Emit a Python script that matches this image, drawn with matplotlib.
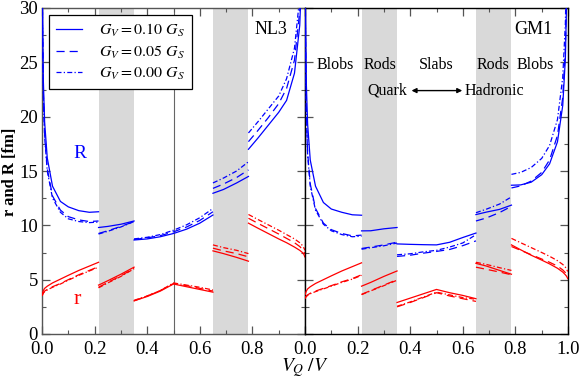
import matplotlib
matplotlib.use('Agg')
import matplotlib.pyplot as plt
from matplotlib.ticker import MultipleLocator

plt.rcParams['font.family'] = ['Liberation Serif', 'DejaVu Serif']
plt.rcParams['mathtext.fontset'] = 'stix'

# ---------------- data ----------------
models = ['NL3', 'GM1']
legend_labels = ['$G_V = 0.10\\ G_S$', '$G_V = 0.05\\ G_S$', '$G_V = 0.00\\ G_S$']
phase_names = ['Blobs', 'Rods', 'Slabs', 'Rods', 'Blobs']
phase_x = [0.114, 0.285, 0.5, 0.715, 0.875]
rod_bands = [(0.215, 0.35), (0.65, 0.785)]

# x grids of the five pasta segments
x_blobQ = [0.001, 0.002, 0.005, 0.01, 0.02, 0.04, 0.07, 0.1, 0.14, 0.18, 0.215]
x_rodQ = [0.215, 0.25, 0.3, 0.35]
x_slab = [0.35, 0.4, 0.45, 0.5, 0.55, 0.6, 0.65]
x_rodH = [0.65, 0.69, 0.74, 0.785]
x_blobH = [0.785, 0.82, 0.86, 0.9, 0.93, 0.96, 0.98, 0.99, 0.995, 0.998, 0.999]

# each list: [G_V=0.10 (solid), G_V=0.05 (dashed), G_V=0.00 (dash-dot)]
# ---- NL3 ----
nl3_blobQ_R = [[37, 30.2, 23.4, 19.5, 16.2, 13.6, 12.2, 11.7, 11.35, 11.2, 11.25],
               [35.5, 29.0, 22.3, 18.4, 15.2, 12.7, 11.4, 10.8, 10.5, 10.35, 10.4],
               [35.0, 28.6, 22.0, 18.1, 15.0, 12.5, 11.2, 10.6, 10.35, 10.25, 10.3]]
nl3_blobQ_r = [[3.7, 3.8, 4.0, 4.2, 4.4, 4.7, 5.05, 5.4, 5.85, 6.25, 6.6],
               [3.55, 3.65, 3.8, 3.95, 4.1, 4.35, 4.65, 5.0, 5.45, 5.85, 6.2],
               [3.5, 3.6, 3.75, 3.9, 4.05, 4.3, 4.6, 4.95, 5.4, 5.8, 6.15]]
nl3_rodQ_R = [[9.8, 9.9, 10.1, 10.4],
              [9.25, 9.5, 9.9, 10.35],
              [9.2, 9.45, 9.85, 10.35]]
nl3_rodQ_r = [[4.5, 4.9, 5.5, 6.15],
              [4.3, 4.75, 5.35, 6.05],
              [4.25, 4.7, 5.3, 6.0]]
nl3_slab_R = [[8.65, 8.75, 8.95, 9.25, 9.65, 10.2, 10.95],
              [8.7, 8.85, 9.05, 9.4, 9.85, 10.45, 11.25],
              [8.75, 8.9, 9.15, 9.55, 10.05, 10.7, 11.55]]
nl3_slab_r = [[3.05, 3.45, 3.95, 4.6, 4.35, 4.1, 3.85],
              [3.05, 3.5, 4.0, 4.65, 4.45, 4.2, 3.95],
              [3.1, 3.5, 4.0, 4.7, 4.5, 4.3, 4.05]]
nl3_rodH_R = [[12.95, 13.3, 13.9, 14.5],
              [13.4, 13.8, 14.4, 15.1],
              [13.9, 14.35, 15.0, 15.85]]
nl3_rodH_r = [[7.65, 7.4, 7.05, 6.7],
              [7.9, 7.65, 7.4, 7.1],
              [8.2, 7.95, 7.7, 7.4]]
nl3_blobH_R = [[17.0, 18.0, 19.2, 20.4, 21.5, 24.0, 28.4, 34.9, 43.0, 57.1, 71.0],
               [17.7, 18.7, 19.9, 21.2, 22.6, 25.2, 29.7, 36.3, 44.4, 59.1, 73.5],
               [18.5, 19.5, 20.7, 21.9, 23.5, 26.3, 31.0, 37.9, 46.5, 61.9, 77.0]]
nl3_blobH_r = [[10.2, 9.75, 9.25, 8.75, 8.4, 8.0, 7.7, 7.5, 7.35, 7.2, 7.1],
               [10.65, 10.2, 9.7, 9.2, 8.8, 8.4, 8.05, 7.8, 7.6, 7.45, 7.35],
               [11.0, 10.55, 10.05, 9.55, 9.15, 8.75, 8.4, 8.15, 7.95, 7.8, 7.7]]

# ---- GM1 ----
gm1_blobQ_R = [[36.5, 29.8, 23.1, 19.3, 16.0, 13.6, 12.1, 11.5, 11.2, 10.97, 10.93],
               [33.0, 27.0, 20.5, 16.7, 13.8, 11.55, 10.2, 9.6, 9.25, 9.03, 9.1],
               [32.5, 26.6, 20.2, 16.5, 13.6, 11.4, 10.1, 9.5, 9.15, 8.95, 9.0]]
gm1_blobQ_r = [[3.65, 3.75, 3.95, 4.15, 4.35, 4.65, 5.0, 5.35, 5.8, 6.2, 6.55],
               [3.3, 3.4, 3.5, 3.6, 3.75, 3.95, 4.2, 4.45, 4.8, 5.1, 5.45],
               [3.25, 3.35, 3.45, 3.55, 3.7, 3.9, 4.15, 4.4, 4.75, 5.05, 5.4]]
gm1_rodQ_R = [[9.49, 9.5, 9.68, 9.8],
              [7.87, 8.0, 8.2, 8.45],
              [7.8, 7.94, 8.12, 8.37]]
gm1_rodQ_r = [[4.4, 4.75, 5.3, 5.8],
              [3.65, 4.0, 4.5, 5.0],
              [3.62, 3.97, 4.45, 4.95]]
gm1_slab_R = [[8.29, 8.25, 8.22, 8.2, 8.44, 8.88, 9.29],
              [7.14, 7.25, 7.44, 7.6, 7.78, 8.13, 8.57],
              [7.29, 7.38, 7.56, 7.7, 8.0, 8.38, 9.14]]
gm1_slab_r = [[2.9, 3.3, 3.7, 4.1, 3.8, 3.55, 3.25],
              [2.5, 2.9, 3.35, 3.8, 3.5, 3.25, 3.0],
              [2.55, 2.95, 3.4, 3.85, 3.6, 3.35, 3.2]]
gm1_rodH_R = [[10.99, 11.22, 11.47, 11.86],
              [10.4, 10.68, 11.18, 11.75],
              [11.16, 11.49, 11.96, 12.62]]
gm1_rodH_r = [[6.5, 6.25, 5.85, 5.5],
              [6.15, 5.95, 5.7, 5.45],
              [6.6, 6.4, 6.1, 5.85]]
gm1_blobH_R = [[13.69, 13.72, 13.97, 14.66, 15.66, 17.69, 21.03, 25.35, 31.0, 40.9, 51.0],
               [13.44, 13.63, 14.07, 14.87, 16.02, 18.27, 21.77, 26.28, 31.87, 42.1, 52.5],
               [14.69, 14.87, 15.32, 16.16, 17.35, 19.74, 23.62, 28.6, 34.8, 46.0, 57.5]]
gm1_blobH_r = [[8.2, 7.75, 7.25, 6.8, 6.45, 6.05, 5.7, 5.45, 5.3, 5.15, 5.1],
               [8.05, 7.7, 7.3, 6.9, 6.6, 6.25, 5.9, 5.65, 5.45, 5.3, 5.25],
               [8.8, 8.4, 7.95, 7.5, 7.15, 6.75, 6.4, 6.15, 5.95, 5.8, 5.75]]

segments_x = [x_blobQ, x_rodQ, x_slab, x_rodH, x_blobH]
nl3_R = [nl3_blobQ_R, nl3_rodQ_R, nl3_slab_R, nl3_rodH_R, nl3_blobH_R]
nl3_r = [nl3_blobQ_r, nl3_rodQ_r, nl3_slab_r, nl3_rodH_r, nl3_blobH_r]
gm1_R = [gm1_blobQ_R, gm1_rodQ_R, gm1_slab_R, gm1_rodH_R, gm1_blobH_R]
gm1_r = [gm1_blobQ_r, gm1_rodQ_r, gm1_slab_r, gm1_rodH_r, gm1_blobH_r]

# ---------------- styles ----------------
styles = ['-', (0, (6.5, 4)), (0, (4, 1.8, 1, 1.8))]
BLUE = '#0000ff'
RED = '#ff0000'
LW = 0.9

fig = plt.figure(figsize=(5.81, 3.80), dpi=100)
ax1 = fig.add_axes([42/581, 1-334/380, 263/581, 326/380])
ax2 = fig.add_axes([305/581, 1-334/380, 263/581, 326/380])

for ax, Rset, rset, name in [(ax1, nl3_R, nl3_r, 'NL3'), (ax2, gm1_R, gm1_r, 'GM1')]:
    for (a, b) in rod_bands:
        ax.axvspan(a, b, color='#d9d9d9', lw=0, zorder=0)
    for xs, Rs, rs in zip(segments_x, Rset, rset):
        for k in range(3):
            ax.plot(xs, Rs[k], color=BLUE, lw=LW, ls=styles[k], zorder=3)
            ax.plot(xs, rs[k], color=RED, lw=LW, ls=styles[k], zorder=3)
    ax.set_xlim(0, 1)
    ax.set_ylim(0, 30)
    ax.xaxis.set_major_locator(MultipleLocator(0.2))
    ax.xaxis.set_minor_locator(MultipleLocator(0.1))
    ax.yaxis.set_major_locator(MultipleLocator(5))
    ax.yaxis.set_minor_locator(MultipleLocator(2.5))
    ax.tick_params(which='both', direction='in', top=True, right=True,
                   labelsize=13.5, color='#555555')
    ax.tick_params(which='major', length=5.5, width=0.9, pad=3)
    ax.tick_params(which='minor', length=3, width=0.8)
    ax.tick_params(axis='x', which='major', pad=5)
    ax.text(0.87, 28.0, name, ha='center', va='center', fontsize=13)

ax1.axvline(0.5, color='#666666', lw=0.8, zorder=1)
for sp in ax1.spines.values():
    sp.set_color('#555555')
    sp.set_linewidth(1.0)
for sp in ax2.spines.values():
    sp.set_color('black')
    sp.set_linewidth(1.0)

ax1.set_xticks([0.0, 0.2, 0.4, 0.6, 0.8, 1.0])
ax1.set_xticklabels(['0.0', '0.2', '0.4', '0.6', '0.8', ''])
ax2.set_yticklabels([])

fig.text(10.5/581, 1-172/380, 'r and R [fm]', rotation=90, ha='center', va='center',
         fontsize=12, fontweight='bold')
fig.text(305/581, 1-368/380, '$V_Q\\;/V$', ha='center', va='center', fontsize=14)

ax1.text(0.145, 16.6, 'R', color=BLUE, fontsize=14, ha='center', va='center')
ax1.text(0.133, 3.2, 'r', color=RED, fontsize=16, ha='center', va='center')

for nm, xp in zip(phase_names, phase_x):
    ax2.text(xp, 24.8, nm, ha='center', va='center', fontsize=11.5)
ax2.text(0.39, 22.4, 'Quark', ha='right', va='center', fontsize=11.5)
ax2.text(0.608, 22.4, 'Hadronic', ha='left', va='center', fontsize=11.5)
ax2.annotate('', xy=(0.598, 22.4), xytext=(0.405, 22.4),
             arrowprops=dict(arrowstyle='<|-|>', color='black', lw=1.0,
                             mutation_scale=7, shrinkA=0, shrinkB=0))

handles = [plt.Line2D([], [], color=BLUE, lw=LW, ls=s) for s in styles]
leg = ax1.legend(handles, legend_labels, loc='upper left', bbox_to_anchor=(0.027, 0.979),
                 borderaxespad=0, fontsize=11.5, handlelength=1.6, handletextpad=1.1,
                 labelspacing=0.3, borderpad=0.45, fancybox=False, framealpha=1,
                 edgecolor='black')
leg.get_frame().set_linewidth(0.9)

fig.savefig('out.png', dpi=100)
